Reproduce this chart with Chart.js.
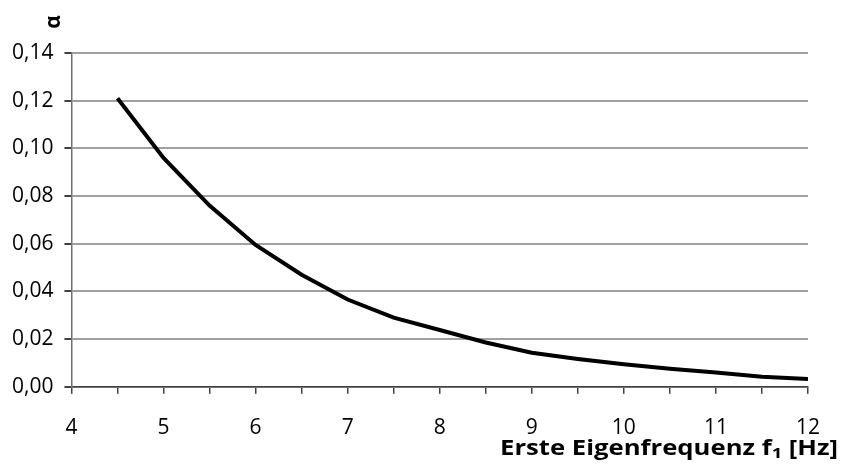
<!DOCTYPE html>
<html>
<head>
<meta charset="utf-8">
<script src="https://cdn.jsdelivr.net/npm/chart.js@4"></script>
<style>
  html, body { margin: 0; padding: 0; background: #fff; }
  #wrap { width: 842px; height: 466px; position: relative; }
</style>
</head>
<body>
<div id="wrap"><canvas id="alphaChart"></canvas></div>
<script>
// ========== DATA ==========
var freq = [4.5, 5, 5.5, 6, 6.5, 7, 7.5, 8, 8.5, 9, 9.5, 10, 10.5, 11, 11.5, 12];
var alpha = [0.121, 0.0960, 0.0760, 0.0595, 0.0470, 0.0366, 0.0290, 0.0238, 0.0186, 0.0143, 0.0117, 0.0095, 0.0076, 0.0060, 0.0042, 0.0033];
var yTitle = "α";
var xTitle = "Erste Eigenfrequenz f";
var xTitleSub = "1";
var xTitleUnit = " [Hz]";

var FONT = "'Open Sans', 'Noto Sans', sans-serif";

// ========== AXIS TITLES ==========
var titlePlugin = {
  id: "titles",
  afterDraw: function (chart) {
    var ctx = chart.ctx;
    var area = chart.chartArea;
    ctx.save();
    ctx.fillStyle = "#000";

    // y title, rotated, above the top tick
    ctx.translate(area.left - 17, area.top - 31);
    ctx.rotate(-Math.PI / 2);
    ctx.font = "bold 21px " + FONT;
    ctx.textAlign = "center";
    ctx.textBaseline = "middle";
    ctx.fillText(yTitle, 0, 0);
    ctx.setTransform(1, 0, 0, 1, 0, 0);

    // x title, right aligned, with subscript
    var big = "bold 21px " + FONT;
    var small = "bold 15px " + FONT;
    ctx.textBaseline = "alphabetic";
    ctx.textAlign = "left";
    ctx.font = big;
    var w1 = ctx.measureText(xTitle).width;
    var w3 = ctx.measureText(xTitleUnit).width;
    ctx.font = small;
    var w2 = ctx.measureText(xTitleSub).width;
    var total = w1 + w2 + w3;
    var right = 838;
    var base = 455;
    var sx = 338 / total;
    ctx.translate(right - 338, base);
    ctx.scale(sx, 1);
    ctx.font = big;
    ctx.fillText(xTitle, 0, 0);
    ctx.font = small;
    ctx.fillText(xTitleSub, w1, 3);
    ctx.font = big;
    ctx.fillText(xTitleUnit, w1 + w2, 0);
    ctx.restore();
  }
};

var ctx = document.getElementById("alphaChart");
new Chart(ctx, {
  type: "line",
  data: {
    datasets: [{
      data: freq.map(function (f, i) { return { x: f, y: alpha[i] }; }),
      borderColor: "#000",
      borderWidth: 4,
      pointRadius: 0,
      tension: 0,
      fill: false
    }]
  },
  options: {
    responsive: true,
    maintainAspectRatio: false,
    animation: false,
    layout: { padding: { left: 1, right: 34, top: 53, bottom: 3 } },
    plugins: {
      legend: { display: false },
      tooltip: { enabled: false }
    },
    scales: {
      x: {
        type: "linear",
        min: 4,
        max: 12,
        ticks: {
          stepSize: 0.5,
          autoSkip: false,
          maxRotation: 0,
          padding: 22,
          color: "#000",
          font: { family: FONT, size: 21 },
          callback: function (v) { return v % 1 === 0 ? String(v) : ""; }
        },
        grid: {
          drawOnChartArea: false,
          drawTicks: true,
          tickLength: 7,
          tickColor: "#404040",
          lineWidth: 1.5
        },
        border: { color: "#404040", width: 1.5 }
      },
      y: {
        min: 0,
        max: 0.14,
        ticks: {
          stepSize: 0.02,
          padding: 11,
          color: "#000",
          font: { family: FONT, size: 21 },
          callback: function (v) { return v.toFixed(2).replace(".", ","); }
        },
        grid: {
          color: "#a0a0a0",
          lineWidth: 2,
          drawTicks: true,
          tickLength: 7,
          tickColor: "#404040"
        },
        border: { color: "#707070", width: 1.5 }
      }
    }
  },
  plugins: [titlePlugin]
});
</script>
</body>
</html>
